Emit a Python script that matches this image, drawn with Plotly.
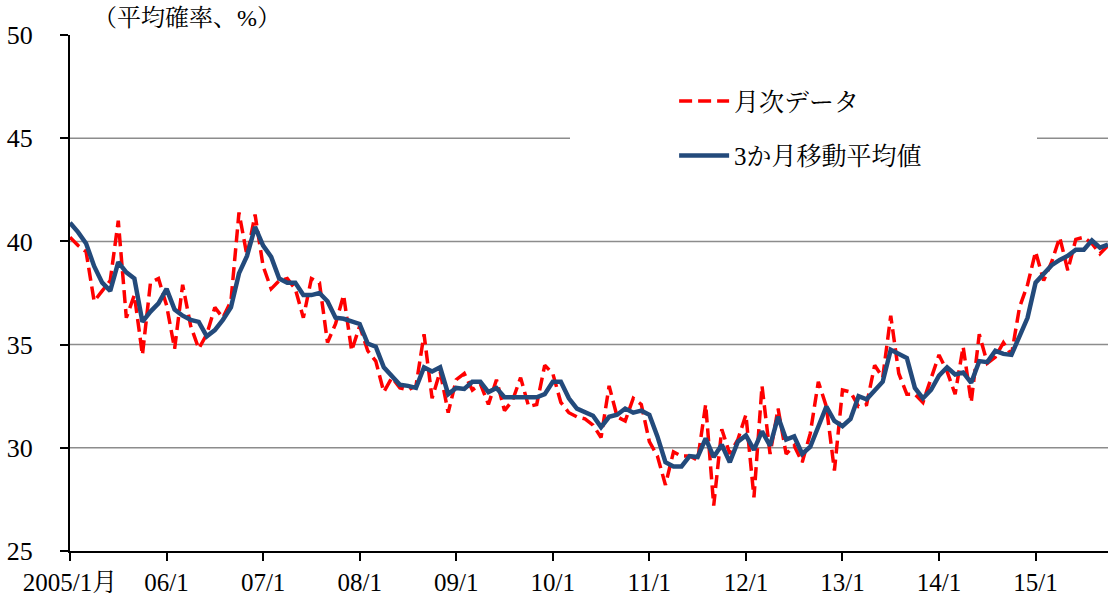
import plotly.graph_objects as go

# month index 0 = 2005/1 ... 129 = 2015/10
monthly = [40.2, 39.8, 39.5, 37.1, 37.6, 38.1, 41.0, 36.3, 37.4, 34.5,
           38.0, 38.2, 36.9, 34.8, 37.9, 35.9, 34.8, 35.5, 36.8, 36.3,
           37.1, 41.4, 39.3, 41.3, 38.8, 37.7, 38.1, 38.2, 37.7, 36.3,
           38.2, 38.0, 35.1, 36.0, 37.4, 34.7, 35.9, 34.7, 34.2, 32.7,
           33.4, 32.9, 32.8, 33.0, 35.5, 32.4, 33.7, 31.7, 33.3, 33.6,
           32.8, 33.1, 32.1, 33.3, 31.8, 32.3, 33.4, 32.0, 32.1, 34.0,
           33.6, 32.2, 31.7, 31.5, 31.4, 31.1, 30.5, 33.0, 31.5, 31.3,
           32.4, 32.1, 30.3, 29.6, 28.2, 29.8, 29.6, 29.6, 29.4, 32.1,
           27.2, 30.9, 29.7, 30.4, 31.6, 27.6, 33.0, 29.7, 31.9, 29.7,
           30.1, 29.3, 30.7, 33.2, 32.0, 28.9, 32.8, 32.7, 32.0, 32.1,
           34.0, 33.4, 36.4, 33.6, 32.6, 32.6, 32.2, 33.4, 34.5, 33.7,
           32.6, 34.9, 32.2, 35.5, 34.1, 34.4, 35.1, 34.5, 36.8, 37.9,
           39.5, 38.1, 39.0, 40.2, 38.6, 40.1, 40.2, 39.9, 39.4, 39.8]

moving_avg = [40.9, 40.45, 39.9, 38.8, 38.0, 37.6, 39.0, 38.5, 38.2, 36.1,
              36.6, 37.0, 37.7, 36.7, 36.4, 36.2, 36.1, 35.4, 35.7, 36.2,
              36.8, 38.45, 39.3, 40.7, 39.8, 39.25, 38.2, 38.0, 38.0, 37.4,
              37.4, 37.5, 37.1, 36.3, 36.25, 36.1, 36.0, 35.05, 34.9, 33.9,
              33.45, 33.05, 33.0, 32.9, 33.9, 33.7, 33.9, 32.6, 32.9, 32.85,
              33.2, 33.2, 32.7, 32.9, 32.45, 32.45, 32.45, 32.45, 32.45, 32.6,
              33.2, 33.2, 32.4, 31.9, 31.75, 31.55, 31.0, 31.5, 31.6, 31.9,
              31.7, 31.8, 31.6, 30.55, 29.3, 29.1, 29.1, 29.6, 29.55, 30.45,
              29.55, 30.15, 29.3, 30.3, 30.6, 29.9, 30.8, 30.1, 31.5, 30.4,
              30.55, 29.7, 30.05, 31.1, 32.0, 31.3, 31.05, 31.4, 32.5, 32.35,
              32.8, 33.2, 34.75, 34.55, 34.35, 32.9, 32.4, 32.8, 33.5, 33.9,
              33.55, 33.65, 33.15, 34.2, 34.15, 34.7, 34.55, 34.5, 35.4, 36.3,
              38.0, 38.45, 38.85, 39.1, 39.3, 39.6, 39.6, 40.05, 39.7, 39.85]

months = list(range(len(monthly)))
tick_positions = [0, 12, 24, 36, 48, 60, 72, 84, 96, 108, 120]
tick_labels = ["2005/1月", "06/1", "07/1", "08/1", "09/1", "10/1",
               "11/1", "12/1", "13/1", "14/1", "15/1"]
y_ticks = [25, 30, 35, 40, 45, 50]
grid_values = [30, 35, 40, 45]

FONT = "Liberation Serif, Noto Serif CJK JP, Noto Sans CJK JP, serif"

fig = go.Figure()
fig.add_trace(go.Scatter(
    x=months, y=monthly, mode="lines", name="月次データ",
    line=dict(color="#FF0000", width=3.5, dash="13px,6px"),
    legendgroup="a"))
fig.add_trace(go.Scatter(
    x=months, y=moving_avg, mode="lines", name="3か月移動平均値",
    line=dict(color="#234A7B", width=4.5),
    legendgroup="b"))

shapes = []
for g in grid_values:
    shapes.append(dict(type="line", xref="paper", yref="y", x0=0, x1=1,
                       y0=g, y1=g, line=dict(color="#8C8C8C", width=1.5),
                       layer="below"))
# white legend box covering gridline
shapes.append(dict(type="rect", xref="paper", yref="paper",
                   x0=0.4817, x1=0.9316, y0=0.70, y1=0.92,
                   fillcolor="white", line=dict(width=0), layer="below"))

fig.update_layout(
    width=1109, height=596,
    margin=dict(l=70, r=1, t=35, b=45),
    paper_bgcolor="white", plot_bgcolor="white",
    font=dict(family=FONT, size=24, color="black"),
    showlegend=True,
    legend=dict(x=0.582, y=0.916, xanchor="left", yanchor="top",
                bgcolor="rgba(0,0,0,0)", font=dict(size=25, family=FONT),
                itemwidth=50, tracegroupgap=19, traceorder="grouped"),
    shapes=shapes,
    xaxis=dict(range=[0, 129], tickmode="array", tickvals=tick_positions,
               ticktext=tick_labels, showgrid=False, zeroline=False,
               showline=True, linecolor="black", linewidth=2,
               ticks="outside", ticklen=8, tickwidth=1.5, tickcolor="black",
               automargin=False,
               tickfont=dict(size=25, family=FONT)),
    yaxis=dict(range=[25, 50], tickmode="array", tickvals=y_ticks,
               showgrid=False, zeroline=False, showline=True,
               linecolor="black", linewidth=2, ticks="outside", ticklen=8,
               tickwidth=1.5, tickcolor="black", ticklabelstandoff=22,
               automargin=False,
               tickfont=dict(size=26, family=FONT)),
    annotations=[dict(text="（平均確率、%）", xref="paper", yref="paper",
                      x=0.02, y=1.033, xanchor="left", yanchor="middle",
                      showarrow=False, font=dict(size=24, family=FONT))],
)

fig.write_html("out.html",
               config={"displayModeBar": False},
               post_script="document.body.style.margin='0';"
                           "document.body.style.padding='0';")
